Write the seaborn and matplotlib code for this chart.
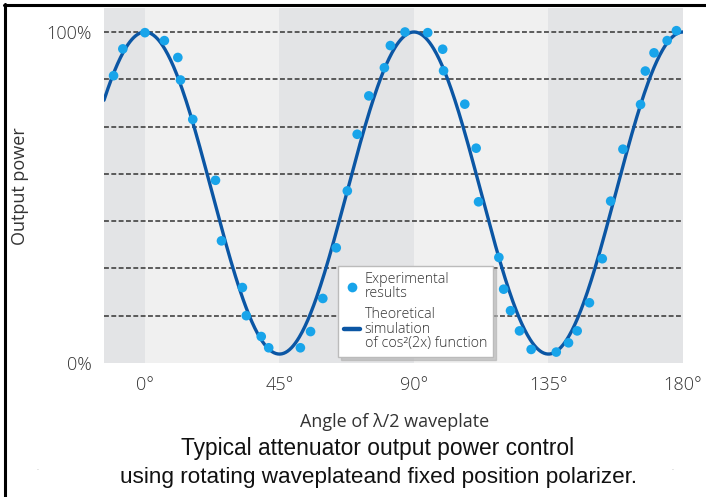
import numpy as np
import pandas as pd
import matplotlib
matplotlib.use("Agg")
import matplotlib.pyplot as plt
from matplotlib.lines import Line2D
import seaborn as sns

# ---------------- data ----------------
angles_exp = [-10.5, -7.4, 0.0, 6.5, 11.0, 11.9, 16.0, 23.6, 25.6, 32.6, 33.9, 38.9, 41.4,
              52.0, 55.4, 59.5, 64.0, 67.7, 71.0, 74.9, 80.1, 82.1, 87.0, 94.6, 99.6, 99.9,
              107.0, 110.8, 111.6, 118.4, 120.0, 122.3, 125.3, 129.2, 137.6, 141.7, 144.6,
              148.7, 153.0, 155.8, 159.9, 165.8, 167.4, 170.3, 174.7, 177.8]
power_exp = [0.868, 0.949, 0.998, 0.974, 0.923, 0.855, 0.736, 0.552, 0.369, 0.228, 0.143, 0.080, 0.046,
             0.046, 0.095, 0.195, 0.348, 0.520, 0.691, 0.807, 0.892, 0.959, 1.000, 0.998, 0.948, 0.883,
             0.782, 0.649, 0.487, 0.319, 0.223, 0.158, 0.097, 0.041, 0.033, 0.061, 0.097,
             0.182, 0.315, 0.489, 0.646, 0.781, 0.882, 0.937, 0.974, 1.004]

# theoretical cos^2(2x) curve parameters (offset/amplitude)
theory_offset = 0.027
theory_amp = 0.973
x_min, x_max = -13.7, 180.0

x_ticks = [0, 45, 90, 135, 180]
x_tick_labels = ["0°", "45°", "90°", "135°", "180°"]
y_ticks = [0, 1]
y_tick_labels = ["0%", "100%"]
grid_levels = [k / 7 for k in range(1, 8)]

dark_bands = [(-13.7, 0), (45, 90), (135, 180)]
light_bands = [(0, 45), (90, 135)]

theta = np.linspace(x_min, x_max, 600)
theory = theory_offset + theory_amp * np.cos(np.deg2rad(2 * theta)) ** 2
df_theory = pd.DataFrame({"angle": theta, "power": theory})
df_exp = pd.DataFrame({"angle": angles_exp, "power": power_exp})

# ---------------- style ----------------
sns.set_theme(style="white")
plt.rcParams["font.family"] = ["Open Sans", "DejaVu Sans"]
plt.rcParams["font.weight"] = "light"

LINE_C = "#0b56a4"
DOT_C = "#18a4ea"
TXT_C = "#333333"

fig = plt.figure(figsize=(7.06, 4.97), dpi=100)
fig.patch.set_facecolor("white")
ax = fig.add_axes([104 / 706, 1 - 363 / 497, (683 - 104) / 706, (363 - 8) / 497])

for a, b in dark_bands:
    ax.axvspan(a, b, color="#e3e4e6", lw=0, zorder=0)
for a, b in light_bands:
    ax.axvspan(a, b, color="#f0f0f0", lw=0, zorder=0)

for g in grid_levels:
    ax.axhline(g, color="#333333", lw=1.1, ls=(0, (3.2, 1.6)), zorder=1)

sns.lineplot(data=df_theory, x="angle", y="power", ax=ax, color=LINE_C, lw=2.4,
             zorder=3, legend=False)
sns.scatterplot(data=df_exp, x="angle", y="power", ax=ax, color=DOT_C, s=48,
                edgecolor="none", zorder=4, legend=False)

ax.set_xlim(x_min, x_max)
ax.set_ylim(0, 1 + 24 / 331)
ax.set_xticks(x_ticks)
ax.set_xticklabels(x_tick_labels)
ax.set_yticks(y_ticks)
ax.set_yticklabels(y_tick_labels)
ax.tick_params(axis="both", length=0, labelsize=13, labelcolor=TXT_C)
ax.tick_params(axis="x", pad=9)
ax.tick_params(axis="y", pad=9)
for s in ax.spines.values():
    s.set_visible(False)

ax.set_xlabel("Angle of λ/2 waveplate", fontsize=13, color=TXT_C)
ax.xaxis.set_label_coords((395 - 104) / 579, (363 - 422) / 355)
ax.xaxis.label.set_va("center")
ax.set_ylabel("Output power", fontsize=13, color=TXT_C)
ax.yaxis.set_label_coords((20 - 104) / 579, (363 - 186) / 355)
ax.yaxis.label.set_va("center")

handles = [
    Line2D([], [], marker="o", ls="none", color=DOT_C, markersize=7, markeredgewidth=0),
    Line2D([], [], color=LINE_C, lw=3.2),
]
labels = ["Experimental\nresults", "Theoretical\nsimulation\nof cos²(2x) function"]
leg = ax.legend(handles, labels, loc="lower left", bbox_to_anchor=(0.404, 0.017),
                borderaxespad=0, fontsize=10.3, frameon=True, fancybox=False,
                edgecolor="#bbbbbb", framealpha=1, handlelength=1.1, handletextpad=0.35,
                labelspacing=0.4, borderpad=0.42,
                shadow={"ox": 2, "oy": -2, "color": "#b0b0b0", "alpha": 0.6})
for t in leg.get_texts():
    t.set_color(TXT_C)
    t.set_linespacing(0.95)
leg.set_zorder(10)

fig.text(378 / 706, 1 - 449 / 497, "Typical attenuator output power control",
         ha="center", va="center", fontsize=16.4, family=["Liberation Sans", "DejaVu Sans"],
         fontweight="normal", color="#111111")
fig.text(378 / 706, 1 - 477 / 497, "using rotating waveplateand fixed position polarizer.",
         ha="center", va="center", fontsize=16.2, family=["Liberation Sans", "DejaVu Sans"],
         fontweight="normal", color="#111111")

# small specks seen in the screenshot
fig.text(37 / 706, 1 - 468 / 497, ".", fontsize=6, color="#777777", ha="center", va="center")
fig.text(672 / 706, 1 - 468 / 497, ".", fontsize=6, color="#777777", ha="center", va="center")

# frame lines (left and top) of the screenshot
fig.add_artist(Line2D([5.3 / 706, 5.3 / 706], [0, 1 - 4 / 497], color="black", lw=2.2,
                      transform=fig.transFigure))
fig.add_artist(Line2D([4 / 706, 1], [1 - 5 / 497, 1 - 5 / 497], color="black", lw=2.2,
                      transform=fig.transFigure))

fig.savefig("out.png", dpi=100)
